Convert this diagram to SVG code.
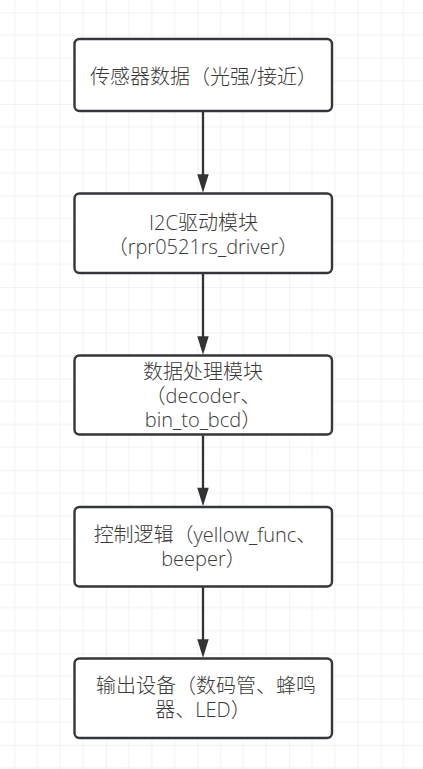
<svg xmlns="http://www.w3.org/2000/svg" width="423" height="769" viewBox="0 0 423 769">
  <defs>
    <pattern id="grid" patternUnits="userSpaceOnUse" x="14.4" y="12.4" width="91.57" height="91.57">
      <path d="M22.89,0 V91.57 M45.79,0 V91.57 M68.68,0 V91.57 M0,22.89 H91.57 M0,45.79 H91.57 M0,68.68 H91.57" stroke="#f1f1f1" stroke-width="1" fill="none"/>
      <path d="M0,0 V91.57 M0,0 H91.57" stroke="#e6e6e6" stroke-width="1" fill="none"/>
    </pattern>
    <marker id="arrow" markerUnits="userSpaceOnUse" markerWidth="19" markerHeight="12" refX="10" refY="5.75" orient="auto" overflow="visible">
      <path d="M0,0 L18.5,5.75 L0,11.5 Z" fill="#333333"/>
    </marker>
    <style>
      .box { fill: #ffffff; stroke: #33363b; stroke-width: 2.4; }
      .lbl { font-family: "Open Sans", "Noto Sans CJK SC", sans-serif; font-size: 20px; font-weight: 300; fill: #3a3a3a; text-anchor: middle; }
      .edge { stroke: #333333; stroke-width: 2.3; fill: none; }
    </style>
  </defs>
  <rect width="423" height="769" fill="#ffffff"/>
  <rect width="423" height="769" fill="url(#grid)"/>

  <g id="connectors">
    <line class="edge" x1="203" y1="112" x2="203" y2="184.3" marker-end="url(#arrow)"/>
    <line class="edge" x1="203" y1="274" x2="203" y2="346.3" marker-end="url(#arrow)"/>
    <line class="edge" x1="203" y1="435.5" x2="203" y2="497.7" marker-end="url(#arrow)"/>
    <line class="edge" x1="203" y1="587" x2="203" y2="649.3" marker-end="url(#arrow)"/>
  </g>

  <g id="node-sensor">
    <rect class="box" x="74.5" y="39" width="257.5" height="72" rx="5"/>
    <text class="lbl" x="203.5" y="84">传感器数据（光强/接近）</text>
  </g>
  <g id="node-i2c">
    <rect class="box" x="74.5" y="193.5" width="257.5" height="79.5" rx="5"/>
    <text class="lbl"><tspan x="203.5" y="230">I2C驱动模块</tspan><tspan x="203" y="254">（rpr0521rs_driver）</tspan></text>
  </g>
  <g id="node-process">
    <rect class="box" x="74.5" y="355.5" width="257.5" height="79" rx="5"/>
    <text class="lbl"><tspan x="203" y="379">数据处理模块</tspan><tspan x="203" y="403">（decoder、</tspan><tspan x="203" y="427">bin_to_bcd）</tspan></text>
  </g>
  <g id="node-control">
    <rect class="box" x="74.5" y="507" width="257.5" height="79.5" rx="5"/>
    <text class="lbl"><tspan x="205" y="542">控制逻辑（yellow_func、</tspan><tspan x="203.5" y="566">beeper）</tspan></text>
  </g>
  <g id="node-output">
    <rect class="box" x="74.5" y="658.5" width="257.5" height="79.5" rx="5"/>
    <text class="lbl"><tspan x="206" y="693">输出设备（数码管、蜂鸣</tspan><tspan x="203" y="717">器、LED）</tspan></text>
  </g>
</svg>
